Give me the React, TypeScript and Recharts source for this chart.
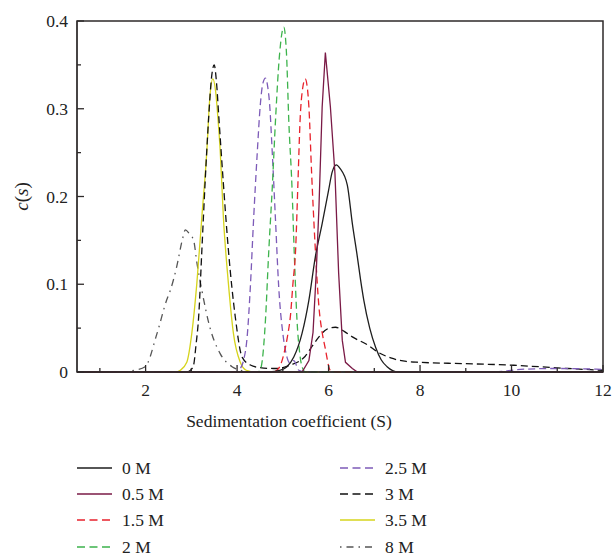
import React from "react";
import { LineChart, Line, XAxis, YAxis } from "recharts";

// sedimentation coefficient (S) vs c(s)
const c0M: [number, number][] = [
  [0.5, 0], [4.7, 0], [4.95, 0.002], [5.09, 0.006], [5.24, 0.017], [5.42, 0.044],
  [5.57, 0.082], [5.71, 0.131], [5.86, 0.169], [6.0, 0.207], [6.08, 0.228],
  [6.17, 0.236], [6.25, 0.232], [6.41, 0.213], [6.52, 0.169], [6.63, 0.131],
  [6.7, 0.105], [6.77, 0.082], [6.9, 0.05], [7.03, 0.028], [7.15, 0.014],
  [7.28, 0.006], [7.52, 0], [12, 0],
];
const c05M: [number, number][] = [
  [0.5, 0], [5.42, 0], [5.57, 0.013], [5.66, 0.045], [5.73, 0.113], [5.79, 0.188],
  [5.86, 0.302], [5.93, 0.364], [6.04, 0.302], [6.14, 0.226], [6.22, 0.113],
  [6.3, 0.036], [6.37, 0.011], [6.52, 0.004], [6.63, 0], [12, 0],
];
const c15M: [number, number][] = [
  [0.5, 0], [4.8, 0], [4.87, 0.002], [4.95, 0.008], [5.02, 0.02], [5.1, 0.04],
  [5.17, 0.066], [5.22, 0.1], [5.28, 0.14], [5.33, 0.215], [5.38, 0.29],
  [5.43, 0.322], [5.49, 0.334], [5.54, 0.322], [5.57, 0.302], [5.63, 0.226],
  [5.7, 0.15], [5.79, 0.074], [5.86, 0.045], [5.92, 0.029], [6.04, 0.002],
  [6.2, 0], [12, 0],
];
const c2M: [number, number][] = [
  [0.5, 0], [4.45, 0], [4.51, 0.003], [4.55, 0.013], [4.62, 0.059], [4.69, 0.135],
  [4.77, 0.211], [4.84, 0.287], [4.93, 0.363], [5.02, 0.393], [5.08, 0.363],
  [5.13, 0.287], [5.2, 0.211], [5.25, 0.135], [5.31, 0.059], [5.37, 0.021],
  [5.42, 0.006], [5.5, 0], [12, 0],
];
const c25M: [number, number][] = [
  [0.5, 0], [3.95, 0], [4.07, 0.004], [4.14, 0.013], [4.22, 0.04], [4.29, 0.097],
  [4.36, 0.173], [4.44, 0.249], [4.51, 0.306], [4.56, 0.328], [4.62, 0.335],
  [4.67, 0.325], [4.71, 0.306], [4.77, 0.249], [4.84, 0.173], [4.91, 0.097],
  [5.01, 0.04], [5.09, 0.017], [5.16, 0.01], [5.24, 0.013], [5.35, 0.002],
  [5.5, 0], [9.6, 0], [10.2, 0.003], [11, 0.004], [12, 0.003],
];
const c3M: [number, number][] = [
  [0.5, 0], [2.9, 0], [3.0, 0.003], [3.05, 0.008], [3.1, 0.03], [3.16, 0.063],
  [3.23, 0.139], [3.3, 0.215], [3.38, 0.291], [3.44, 0.335], [3.5, 0.35],
  [3.55, 0.33], [3.6, 0.291], [3.7, 0.215], [3.81, 0.139], [3.96, 0.063],
  [4.11, 0.017], [4.29, 0.008], [4.5, 0.005], [4.8, 0.004], [5.0, 0.005],
  [5.17, 0.008], [5.38, 0.013], [5.49, 0.018], [5.65, 0.03], [5.79, 0.04],
  [5.97, 0.049], [6.15, 0.051], [6.35, 0.046], [6.52, 0.04], [6.85, 0.031],
  [7.1, 0.022], [7.36, 0.016], [7.7, 0.012], [8.0, 0.011], [9.0, 0.0095],
  [10.05, 0.0077], [10.6, 0.006], [11.23, 0.004], [12, 0.002],
];
const c35M: [number, number][] = [
  [0.5, 0], [2.65, 0], [2.76, 0.002], [2.9, 0.011], [3.01, 0.044], [3.12, 0.101],
  [3.23, 0.177], [3.34, 0.253], [3.4, 0.31], [3.47, 0.334], [3.53, 0.32],
  [3.58, 0.29], [3.63, 0.253], [3.7, 0.177], [3.81, 0.101], [3.92, 0.044],
  [4.07, 0.011], [4.2, 0.002], [4.4, 0], [12, 0],
];
const c8M: [number, number][] = [
  [0.5, 0], [1.5, 0], [1.75, 0.002], [1.99, 0.006], [2.25, 0.044], [2.46, 0.082],
  [2.54, 0.093], [2.68, 0.12], [2.8, 0.15], [2.87, 0.162], [2.95, 0.158],
  [3.05, 0.15], [3.12, 0.125], [3.23, 0.093], [3.41, 0.05], [3.63, 0.021],
  [3.89, 0.006], [4.07, 0.002], [4.3, 0], [12, 0],
];

const xDomain: [number, number] = [0.5, 12];
const yDomain: [number, number] = [0, 0.4];
const xTicks = [1, 2, 3, 4, 5, 6, 7, 8, 9, 10, 11, 12];
const yTicks = [0, 0.05, 0.1, 0.15, 0.2, 0.25, 0.3, 0.35, 0.4];

const series = [
  { name: "0 M", points: c0M, color: "#1e1e1e", dash: undefined, type: "monotone" },
  { name: "0.5 M", points: c05M, color: "#7a1a46", dash: undefined, type: "linear" },
  { name: "1.5 M", points: c15M, color: "#e8222c", dash: "7 4", type: "monotone" },
  { name: "2 M", points: c2M, color: "#3db34c", dash: "7 4", type: "monotone" },
  { name: "2.5 M", points: c25M, color: "#7d5bb8", dash: "7 4", type: "monotone" },
  { name: "3 M", points: c3M, color: "#111111", dash: "7 4", type: "monotone" },
  { name: "3.5 M", points: c35M, color: "#d6d41c", dash: undefined, type: "monotone" },
  { name: "8 M", points: c8M, color: "#555555", dash: "1.5 5 7 5", type: "monotone" },
];

// draw order: last one on top
const drawOrder = [7, 6, 5, 4, 3, 2, 0, 1];

const FONT = "'Liberation Serif', 'Times New Roman', serif";
const AXIS = "#2e2a2a";

// chart box
const W = 615;
const CH = 440;
const M = { top: 21, right: 12, left: 0, bottom: 0 };
const Y_W = 77;
const X_H = 68;
const PL = M.left + Y_W;
const PR = W - M.right;
const PT = M.top;
const PB = CH - M.bottom - X_H;

const XTick = (props: any) => {
  const { x, y, payload } = props;
  const v = payload.value;
  if (v % 2 !== 0) return <g />;
  return (
    <text x={x} y={y} textAnchor="middle" dominantBaseline="central" fontFamily={FONT} fontSize={17.5} fill="#222">
      {v}
    </text>
  );
};

const YTick = (props: any) => {
  const { x, y, payload } = props;
  const v = payload.value;
  if (Math.round(v * 100) % 10 !== 0) return <g />;
  return (
    <text x={x} y={y} textAnchor="end" dominantBaseline="central" fontFamily={FONT} fontSize={17.5} fill="#222">
      {v === 0 ? "0" : v.toFixed(1)}
    </text>
  );
};

// top/right frame edges and inward ticks, drawn over the plot
function Frame() {
  const sx = (v: number) => PL + ((v - xDomain[0]) / (xDomain[1] - xDomain[0])) * (PR - PL);
  const sy = (v: number) => PB - ((v - yDomain[0]) / (yDomain[1] - yDomain[0])) * (PB - PT);
  return (
    <svg width={W} height={CH} style={{ position: "absolute", left: 0, top: 0, pointerEvents: "none" }}>
      <path
        d={`M${PL},${PB} L${PL},${PT} L${PR},${PT} L${PR},${PB} Z`}
        fill="none"
        stroke={AXIS}
        strokeWidth={1.5}
      />
      {xTicks.map((v) => (
        <path key={"x" + v} d={`M${sx(v)},${PB} L${sx(v)},${PB - (v % 2 === 0 ? 7 : 4)}`} stroke={AXIS} strokeWidth={1.3} />
      ))}
      {yTicks.map((v) => (
        <path
          key={"y" + v}
          d={`M${PL},${sy(v)} L${PL + (Math.round(v * 100) % 10 === 0 ? 7 : 4)},${sy(v)}`}
          stroke={AXIS}
          strokeWidth={1.3}
        />
      ))}
    </svg>
  );
}

export default function App() {
  return (
    <div style={{ position: "absolute", left: 0, top: 0, width: 615, height: 557, background: "#fff" }}>
      <LineChart width={W} height={CH} margin={M}>
        <XAxis
          type="number"
          dataKey="s"
          domain={xDomain}
          ticks={xTicks}
          interval={0}
          height={X_H}
          tickSize={0}
          tickMargin={18}
          tick={<XTick />}
          stroke={AXIS}
          label={(p: any) => (
            <text
              x={p.viewBox.x + p.viewBox.width / 2 - 51}
              y={p.viewBox.y + 49}
              textAnchor="middle"
              dominantBaseline="central"
              fontFamily={FONT}
              fontSize={17.5}
              fill="#222"
            >
              Sedimentation coefficient (S)
            </text>
          )}
        />
        <YAxis
          type="number"
          domain={yDomain}
          ticks={yTicks}
          interval={0}
          width={Y_W}
          tickSize={0}
          tickMargin={9}
          tick={<YTick />}
          stroke={AXIS}
          label={(p: any) => {
            const cx = p.viewBox.x + 21;
            const cy = p.viewBox.y + p.viewBox.height / 2;
            return (
              <text
                x={cx}
                y={cy}
                transform={`rotate(-90, ${cx}, ${cy})`}
                textAnchor="middle"
                dominantBaseline="central"
                fontFamily={FONT}
                fontSize={19}
                fill="#222"
              >
                <tspan fontStyle="italic">c</tspan>(<tspan fontStyle="italic">s</tspan>)
              </text>
            );
          }}
        />
        {drawOrder.map((i) => {
          const sr = series[i];
          return (
            <Line
              key={sr.name}
              data={sr.points.map(([s, c]) => ({ s, c }))}
              dataKey="c"
              name={sr.name}
              type={sr.type as any}
              stroke={sr.color}
              strokeWidth={1.3}
              strokeDasharray={sr.dash}
              dot={false}
              activeDot={false}
              isAnimationActive={false}
            />
          );
        })}
      </LineChart>
      <Frame />
      <svg width={615} height={117} style={{ position: "absolute", left: 0, top: 440 }}>
        {series.map((sr, i) => {
          const lx = i < 4 ? 77 : 340;
          const ly = [28, 54, 80, 107][i % 4];
          return (
            <g key={sr.name}>
              <line x1={lx} x2={lx + 35} y1={ly} y2={ly} stroke={sr.color} strokeWidth={1.5} strokeDasharray={sr.dash === "7 4" ? "8 4.5" : sr.dash} />
              <text x={lx + 45} y={ly} dominantBaseline="central" fontFamily={FONT} fontSize={17.5} fill="#222">
                {sr.name}
              </text>
            </g>
          );
        })}
      </svg>
    </div>
  );
}
